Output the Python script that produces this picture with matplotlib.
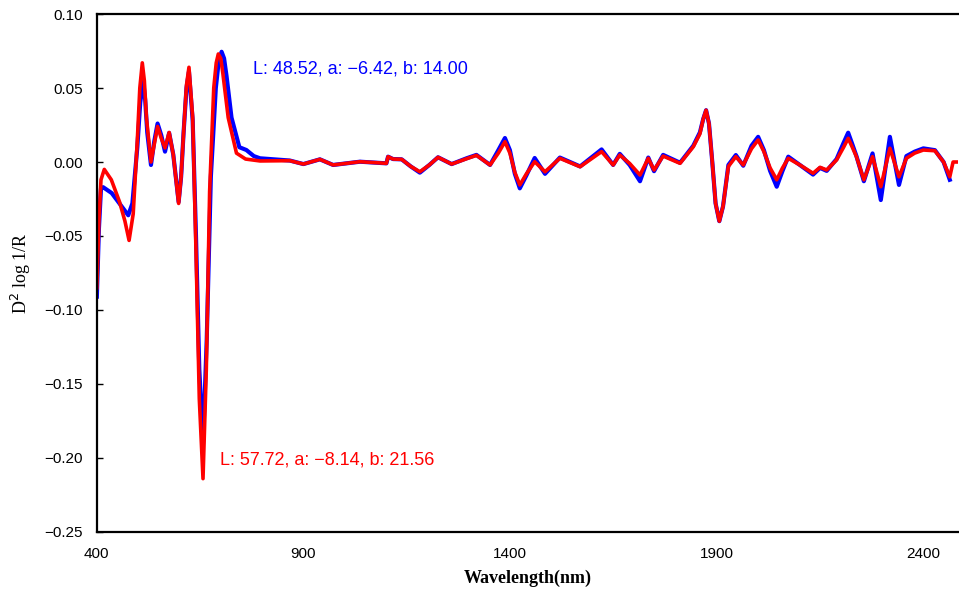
import matplotlib.pyplot as plt

# blue spectrum (L: 48.52)
wl_blue = [400, 405, 410, 415, 436, 460, 476, 486, 498, 505, 512, 517, 522, 531, 539, 547, 556,
           565, 575, 585, 598, 604, 610, 617, 623, 632, 640, 648, 657, 666, 676, 688, 695, 702,
           708, 714, 726, 745, 762, 780, 795, 867, 900, 940, 972, 1037, 1101, 1105, 1117, 1138,
           1160, 1182, 1205, 1226, 1259, 1295, 1319, 1352, 1372, 1388, 1400, 1412, 1424, 1440,
           1460, 1485, 1521, 1570, 1622, 1650, 1666, 1690, 1715, 1735, 1749, 1771, 1812, 1844,
           1860, 1868, 1875, 1882, 1890, 1898, 1907, 1916, 1929, 1947, 1965, 1985, 2001, 2015,
           2030, 2046, 2060, 2074, 2102, 2134, 2151, 2167, 2191, 2208, 2219, 2229, 2239, 2257,
           2278, 2298, 2320, 2342, 2360, 2380, 2401, 2429, 2450, 2465]
d2_blue = [-0.091, -0.045, -0.018, -0.017, -0.021, -0.030, -0.036, -0.028, 0.010, 0.040, 0.055,
           0.042, 0.020, -0.002, 0.014, 0.026, 0.018, 0.007, 0.0196, 0.005, -0.027, -0.010,
           0.020, 0.050, 0.061, 0.028, -0.050, -0.140, -0.190, -0.120, -0.010, 0.050, 0.068,
           0.0745, 0.070, 0.058, 0.030, 0.010, 0.0081, 0.004, 0.0025, 0.001, -0.0014, 0.0018,
           -0.002, 0.0002, -0.0009, 0.0036, 0.002, 0.0018, -0.003, -0.0072, -0.002, 0.0032,
           -0.0014, 0.0025, 0.0048, -0.002, 0.008, 0.0162, 0.008, -0.008, -0.0178, -0.009,
           0.0027, -0.008, 0.003, -0.003, 0.0085, -0.002, 0.0055, -0.002, -0.013, 0.003, -0.0062,
           0.0048, -0.0005, 0.011, 0.020, 0.029, 0.035, 0.026, 0.0, -0.028, -0.040, -0.030,
           -0.002, 0.0047, -0.0025, 0.011, 0.017, 0.008, -0.006, -0.0167, -0.006, 0.0036, -0.002,
           -0.0085, -0.004, -0.006, 0.002, 0.013, 0.0198, 0.012, 0.004, -0.013, 0.0058, -0.0257,
           0.017, -0.0155, 0.004, 0.007, 0.0092, 0.008, 0.000, -0.012]

# red spectrum (L: 57.72)
wl_red = [400, 405, 410, 418, 435, 455, 468, 478, 488, 498, 504, 510, 515, 520, 531, 539, 547,
          556, 565, 575, 585, 598, 604, 610, 617, 623, 632, 640, 648, 657, 665, 673, 683, 689,
          694, 700, 705, 718, 738, 760, 795, 867, 900, 940, 972, 1037, 1101, 1105, 1117, 1138,
          1160, 1182, 1205, 1226, 1259, 1295, 1319, 1352, 1372, 1388, 1400, 1412, 1424, 1440,
          1460, 1485, 1521, 1570, 1622, 1650, 1666, 1690, 1715, 1735, 1749, 1771, 1812, 1844,
          1860, 1868, 1875, 1882, 1890, 1898, 1907, 1916, 1929, 1947, 1965, 1985, 2001, 2015,
          2030, 2046, 2060, 2074, 2102, 2134, 2151, 2167, 2191, 2208, 2219, 2229, 2239, 2257,
          2278, 2298, 2320, 2342, 2360, 2380, 2401, 2429, 2450, 2465, 2473, 2500]
d2_red = [-0.085, -0.040, -0.012, -0.005, -0.012, -0.027, -0.040, -0.053, -0.035, 0.015, 0.050,
          0.067, 0.055, 0.030, 0.000, 0.012, 0.024, 0.016, 0.0095, 0.020, 0.005, -0.028, -0.010,
          0.020, 0.052, 0.064, 0.030, -0.060, -0.160, -0.214, -0.140, -0.020, 0.050, 0.067,
          0.073, 0.070, 0.060, 0.030, 0.006, 0.002, 0.0007, 0.0009, -0.0014, 0.0018, -0.002,
          0.0002, -0.0009, 0.0036, 0.002, 0.0018, -0.003, -0.0066, -0.002, 0.0032, -0.0014,
          0.0022, 0.0045, -0.002, 0.006, 0.0137, 0.006, -0.007, -0.0155, -0.008, 0.0002,
          -0.0066, 0.0025, -0.0032, 0.007, -0.002, 0.0047, -0.001, -0.0088, 0.0025, -0.0054,
          0.004, -0.0009, 0.0103, 0.019, 0.029, 0.035, 0.026, 0.000, -0.028, -0.040, -0.030,
          -0.003, 0.0036, -0.002, 0.009, 0.0149, 0.007, -0.004, -0.012, -0.004, 0.0025, -0.002,
          -0.0076, -0.0036, -0.0054, 0.0014, 0.010, 0.016, 0.010, 0.0036, -0.012, 0.0036,
          -0.0167, 0.0093, -0.010, 0.0025, 0.006, 0.0081, 0.0076, 0.000, -0.010, 0.000, 0.000]

label_blue = 'L: 48.52, a: -6.42, b: 14.00'
label_red = 'L: 57.72, a: -8.14, b: 21.56'

fig = plt.figure(figsize=(9.59, 5.97), dpi=100)
ax = fig.add_axes([0.101, 0.109, 0.898, 0.8675])

ax.plot(wl_blue, d2_blue, color='#0000ff', lw=3.0, solid_joinstyle='round')
ax.plot(wl_red, d2_red, color='#ff0000', lw=2.6, solid_joinstyle='round')

ax.text(778, 0.0595, label_blue.replace('-', '\u2212'), color='#0000ff', fontsize=13,
        family='Liberation Sans', va='baseline')
ax.text(698, -0.2047, label_red.replace('-', '\u2212'), color='#ff0000', fontsize=13,
        family='Liberation Sans', va='baseline')

ax.set_xlim(400, 2485)
ax.set_ylim(-0.25, 0.10)
ax.set_xticks([400, 900, 1400, 1900, 2400])
ax.set_yticks([-0.25, -0.20, -0.15, -0.10, -0.05, 0.00, 0.05, 0.10])
ax.set_yticklabels(['\u22120.25', '\u22120.20', '\u22120.15', '\u22120.10', '\u22120.05',
                    '0.00', '0.05', '0.10'])
ax.tick_params(axis='y', direction='in', length=4, width=1, pad=10, labelsize=11)
ax.tick_params(axis='x', length=0, pad=11, labelsize=11)
for lab in ax.get_xticklabels() + ax.get_yticklabels():
    lab.set_family('Liberation Sans')

for s in ['left', 'bottom', 'top']:
    ax.spines[s].set_linewidth(1.6)
ax.spines['right'].set_visible(False)

ax.set_xlabel('Wavelength(nm)', fontsize=13, family='Liberation Serif', fontweight='bold',
              labelpad=6)
ax.set_ylabel('D$^2$ log 1/R', fontsize=13, family='Liberation Serif', labelpad=8)

fig.savefig('out.png', dpi=100)
